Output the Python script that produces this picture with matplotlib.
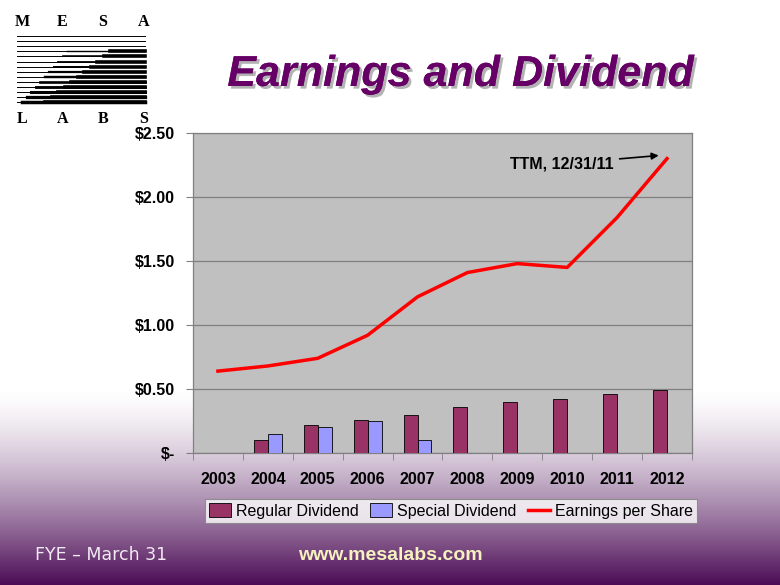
import numpy as np
import matplotlib
matplotlib.use("Agg")
import matplotlib.pyplot as plt
from matplotlib.patches import Patch
from matplotlib.lines import Line2D
import matplotlib.patheffects as pe

years = ["2003", "2004", "2005", "2006", "2007", "2008", "2009", "2010", "2011", "2012"]
regular_div = [0.0, 0.10, 0.22, 0.26, 0.30, 0.36, 0.40, 0.42, 0.46, 0.49]
special_div = [0.0, 0.15, 0.20, 0.25, 0.10, 0.0, 0.0, 0.0, 0.0, 0.0]
eps = [0.64, 0.68, 0.74, 0.92, 1.22, 1.41, 1.48, 1.45, 1.84, 2.30]
ytick_vals = [0, 0.5, 1.0, 1.5, 2.0, 2.5]
ytick_labels = ["$-", "$0.50", "$1.00", "$1.50", "$2.00", "$2.50"]

plt.rcParams["font.family"] = ["Liberation Sans", "DejaVu Sans"]

fig = plt.figure(figsize=(7.8, 5.85), dpi=100)

# background gradient: white on top, purple at the bottom
bg = fig.add_axes([0, 0, 1, 1], zorder=-10)
h = 585
yy = np.arange(h)
t = np.clip((yy - 390) / 195.0, 0, 1) ** 1.4
end = np.array([0.29, 0.04, 0.33])
cols = 1 - t[:, None] * (1 - end[None, :])
grad = np.repeat(cols[:, None, :], 4, axis=1)
bg.imshow(grad, aspect="auto", extent=[0, 1, 0, 1], origin="upper")
bg.set_xlim(0, 1)
bg.set_ylim(0, 1)
bg.axis("off")

# logo
lg = fig.add_axes([0, 0, 1, 1], zorder=-5)
lg.set_xlim(0, 780)
lg.set_ylim(585, 0)
lg.axis("off")
for i, ch in enumerate("MESA"):
    lg.text(22 + i * 40.5, 22, ch, fontsize=11.5, family="Liberation Serif",
            fontweight="bold", ha="center", va="center")
for i, ch in enumerate("LABS"):
    lg.text(22 + i * 40.5, 119, ch, fontsize=11.5, family="Liberation Serif",
            fontweight="bold", ha="center", va="center")
nlines = 14
for i in range(nlines):
    y = 36 + i * 5.1
    lg.plot([17, 145], [y, y], color="black", lw=0.7)
    if i >= 3:
        k = i - 3
        x0 = 67 - k * 4.5
        lg.plot([x0, 145], [y, y], color="black", lw=1.0 + k * 0.15)
        x1 = 110 - k * 6.5
        if x1 > 30:
            lg.plot([max(x1, 17), 145], [y, y], color="black", lw=2.6)

# title
fig.text(0.59, 0.872, "Earnings and Dividend", fontsize=31, fontweight="bold",
         fontstyle="italic", color="#660066", ha="center", va="center",
         path_effects=[pe.withSimplePatchShadow(offset=(2, -2), shadow_rgbFace="#a0a0a0", alpha=0.8),
                       pe.Normal()])

ax = fig.add_axes([0.2474, 0.2256, 0.6397, 0.547])
ax.set_facecolor("#c0c0c0")
x = np.arange(len(years))
w = 0.28
ax.bar(x - w, regular_div, width=w, align="edge", color="#993366",
       edgecolor="black", linewidth=0.6, zorder=3)
ax.bar(x, special_div, width=w, align="edge", color="#9999ff",
       edgecolor="black", linewidth=0.6, zorder=3)
ax.plot(x, eps, color="#ff0000", lw=2.5, zorder=4)

ax.set_xlim(-0.5, len(years) - 0.5)
ax.set_ylim(0, 2.5)
ax.set_yticks(ytick_vals)
ax.set_yticklabels(ytick_labels, fontsize=11.5, fontweight="bold")
ax.set_xticks(x)
ax.set_xticklabels(years, fontsize=11.5, fontweight="bold")
ax.set_xticks(np.arange(-0.5, len(years)), minor=True)
ax.tick_params(axis="x", which="major", length=0, pad=14)
ax.tick_params(axis="x", which="minor", length=5, color="#808080", direction="out")
ax.tick_params(axis="y", length=5, color="#808080", direction="out", pad=8)
ax.grid(axis="y", color="#808080", lw=0.9, zorder=1)
ax.set_axisbelow(True)
for s in ax.spines.values():
    s.set_color("#808080")
    s.set_linewidth(0.9)

ax.annotate("TTM, 12/31/11", xy=(9.0, 2.33), xytext=(6.9, 2.26),
            fontsize=11.5, fontweight="bold", ha="center", va="center",
            arrowprops=dict(arrowstyle="-|>", color="black", lw=1.2,
                            shrinkA=2, shrinkB=6, mutation_scale=10))

handles = [Patch(facecolor="#993366", edgecolor="black", linewidth=0.6),
           Patch(facecolor="#9999ff", edgecolor="black", linewidth=0.6),
           Line2D([0], [0], color="#ff0000", lw=2.5)]
leg = fig.legend(handles, ["Regular Dividend", "Special Dividend", "Earnings per Share"],
                 loc="center", bbox_to_anchor=(451 / 780, 1 - 511 / 585), ncol=3,
                 fontsize=11.5, frameon=True, fancybox=False, edgecolor="#808080",
                 handlelength=1.4, handleheight=0.9, handletextpad=0.3,
                 columnspacing=0.7, borderpad=0.25, borderaxespad=0)
leg.get_frame().set_linewidth(0.8)

fig.text(35 / 780, 1 - 555 / 585, "FYE \u2013 March 31", fontsize=12.5,
         family="DejaVu Sans", color="#f2eaf2", ha="left", va="center")
fig.text(390 / 780, 1 - 555 / 585, "www.mesalabs.com", fontsize=14,
         fontweight="bold", color="#f6f2c0", ha="center", va="center")

fig.savefig("out.png", dpi=100)
